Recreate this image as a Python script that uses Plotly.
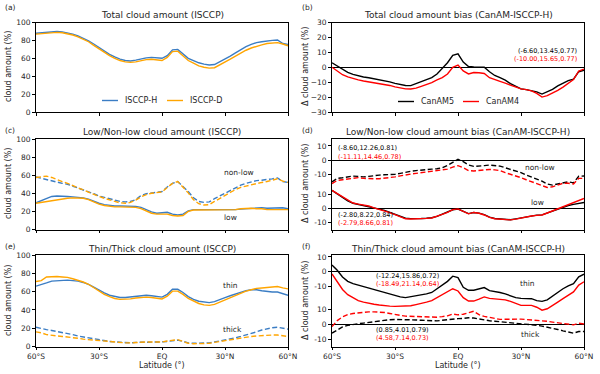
import plotly.graph_objects as go

# latitude grid (deg), 60S -> 60N
LAT = [-60, -57.5, -55, -52.5, -50, -47.5, -45, -42.5, -40, -37.5, -35, -32.5, -30,
       -27.5, -25, -22.5, -20, -17.5, -15, -12.5, -10, -7.5, -5, -2.5, 0,
       2.5, 5, 7.5, 10, 12.5, 15, 17.5, 20, 22.5, 25, 27.5, 30,
       32.5, 35, 37.5, 40, 42.5, 45, 47.5, 50, 52.5, 55, 57.5, 60]
XTICK_VALS = [-60, -30, 0, 30, 60]
XTICK_TEXT = ["60°S", "30°S", "EQ", "30°N", "60°N"]

# (a) total cloud amount, ISCCP-H / ISCCP-D
TOTAL_H = [88, 88.5, 89.5, 90, 90, 89.5, 88.5, 87, 85, 82.5, 79.5, 76, 72, 68, 64.5, 61.5, 59,
           57.5, 57, 58, 59.5, 60.5, 61, 60.5, 60, 63, 69.5, 70, 65, 60, 57.5, 55, 53.5, 52.5,
           53, 56, 59.5, 62.5, 66, 70, 73, 75.5, 77.5, 78.5, 79.5, 80, 80.5, 76.5, 75.5]
TOTAL_D = [87, 87.5, 88.5, 89, 89, 88.5, 87.5, 86, 84, 81.5, 78.5, 74.5, 70.5, 66.5, 63, 60, 57.5,
           56, 55.5, 56, 57.5, 58.5, 59, 58.5, 57.5, 61, 67.5, 68, 63, 57.5, 54.5, 51.5, 50, 49,
           49.5, 52.5, 56, 59, 62.5, 66, 69, 71.5, 73.5, 75, 76.5, 77, 77.5, 76, 74]

# (b) total cloud amount bias
TOTAL_B5 = [3, 1, -1.5, -3.5, -4.8, -5.8, -6.5, -7, -7.6, -8.2, -8.8, -9.8, -10.8, -11.5, -12.2,
            -12.3, -11, -10, -8.5, -7, -4.5, -0.7, 3, 8, 9, 3.5, 0.5, 0.2, 0, 0, -3, -5.5, -7,
            -8.7, -11, -13, -14.5, -15, -15.5, -16.5, -18, -16.5, -14.8, -12.5, -10.5, -9, -8, -3, -2]
TOTAL_B4 = [0, -2.5, -5, -6.5, -7.7, -8.5, -9.2, -9.8, -10.2, -10.6, -11.5, -12.2, -13.2, -14,
            -14.5, -14.6, -14, -12.8, -11.7, -10.3, -8.5, -7, -4.5, 0, 1.5, -2.5, -4.5, -3.5, -3.7,
            -4.2, -7, -8.5, -9.5, -10.7, -12, -13.7, -14.5, -15, -15.8, -17.5, -20, -19, -17.5,
            -15.5, -13.3, -10.5, -8.3, -2.5, -1.2]
TOTAL_STATS = ["(-6.60,13.45,0.77)", "(-10.00,15.65,0.77)"]

# (c) low / non-low cloud amount
NONLOW_H = [58, 56.5, 55, 53.5, 52, 51, 50, 48, 46, 44, 42, 39.5, 37, 35.5, 34, 32.5, 31, 30.5,
            31, 33, 37.5, 39.5, 40.5, 41, 42, 47, 51, 53, 48, 42, 35, 31, 30, 30.5, 34, 37, 40,
            43, 46, 49, 51, 52.5, 54, 54.5, 55, 56, 57, 53, 52]
NONLOW_D = [57.5, 58.5, 59, 57.5, 55, 53, 51, 48.5, 46, 44, 41.5, 39, 36.5, 34.5, 32.5, 31, 29.5,
            29, 30, 32.5, 36, 38.5, 40, 41, 41.5, 46.5, 51, 53, 47, 40.5, 33, 28.5, 27, 27.5, 31,
            34.5, 38, 41, 44, 46.5, 48, 49.5, 51, 52, 53, 54.5, 56, 53.5, 52]
LOW_H = [29.5, 32, 34.5, 36.5, 37, 37, 36.5, 36, 35.5, 35, 33.5, 31, 29, 27.5, 26.5, 26, 26, 26,
         26, 25.5, 24.5, 22, 19.5, 18, 18.5, 19, 17, 16, 17, 20.5, 22, 22, 22, 22, 22, 22, 22,
         21.5, 22, 22.5, 23, 23.5, 24, 24, 23.5, 23.5, 23.5, 24, 23]
LOW_D = [29, 30, 31, 32, 33, 34, 34.5, 35, 35, 34.5, 33, 30.5, 28, 26.5, 25.5, 25, 25, 25, 25,
         24.5, 23, 20.5, 18, 17, 17, 17, 15.5, 15, 15.5, 20, 21.5, 21.5, 22, 22, 21.5, 21.5, 22,
         21.5, 22, 23, 23.5, 23.5, 23, 23, 22, 22, 22, 22.5, 22]

# (d) low / non-low bias
NONLOW_B5 = [-15.5, -13, -12.6, -12, -11.4, -11.6, -12, -11.6, -11, -10.7, -10.5, -10.4, -10.2,
             -9.5, -8.5, -8, -7.5, -7, -6.7, -6.5, -6.2, -5.5, -3.8, -1.5, 0.5, -1.2, -3.5, -4.5,
             -4.5, -4, -3.6, -4, -4.3, -5.5, -6.5, -7.5, -9, -10.7, -12, -13.5, -15, -17, -17.8,
             -17, -16, -15.5, -16.2, -11.5, -11.4]
NONLOW_B4 = [-16.7, -14.5, -14, -13.5, -13, -12.5, -13, -13.3, -13.3, -13.3, -13, -12.4, -12,
             -11.3, -10.5, -10, -9.5, -9, -8.7, -8.3, -7.9, -7.5, -6.5, -5, -4, -5.5, -7.5, -7.8,
             -7.5, -7, -6.7, -7, -7.5, -9, -10, -11, -12.5, -14, -15.5, -17, -18.5, -19.5, -19,
             -17.5, -16.5, -16.5, -17, -13, -13]
LOW_B5 = [13, 10.5, 8.4, 5.5, 3.8, 3, 2.5, 1.8, 0.6, -0.3, -1.2, -2.5, -4, -5.5, -6.8, -7.1, -7.2,
          -7, -6.8, -6.5, -5.5, -4, -2.5, -0.8, -0.3, -2, -3.5, -2.8, -3.2, -4.2, -6, -7, -7.3,
          -7.6, -7.9, -7.3, -6.5, -5.8, -5, -4.6, -4.4, -3, -1.6, -0.2, 1.2, 2.2, 3, 3.5, 4.4]
LOW_B4 = [13, 10.8, 8.6, 5.8, 4, 3.2, 2.6, 1.9, 0.5, -0.5, -1.5, -2.8, -4.3, -5.8, -7.2, -7.4,
          -7.4, -7.1, -6.9, -6.6, -5.6, -4.1, -2.6, -0.7, -0.2, -2.1, -3.7, -2.7, -3.3, -4.5,
          -6.2, -7.2, -7.5, -7.8, -8, -7.4, -6.6, -5.9, -5.2, -4.8, -4.5, -3.1, -1.6, 0, 1.5,
          3, 4.3, 6, 7.2]
NONLOW_STATS = ["(-8.60,12.26,0.81)", "(-11.11,14.46,0.78)"]
LOW_STATS = ["(-2.80,8.22,0.84)", "(-2.79,8.66,0.81)"]

# (e) thin / thick cloud amount
THIN_H = [66, 67.5, 69.5, 71.5, 72, 72.5, 72.5, 72, 71.5, 70, 68, 65, 61.5, 58.5, 56, 54.5, 53.5,
          53.5, 54, 55, 55.5, 56, 55.5, 55, 54, 57, 62.5, 62.5, 59, 54.5, 51.5, 49.5, 48.5, 48,
          49, 51.5, 53.5, 55.5, 57.5, 59.5, 61, 62, 62, 61, 60, 59.5, 59.5, 57.5, 56]
THIN_D = [71, 72, 76, 76.5, 76.5, 76, 75.5, 74, 72.5, 70.5, 68, 64.5, 60.5, 57, 54.5, 52.5, 51.5,
          51.5, 52, 53, 53.5, 54, 53.5, 53, 52, 55, 60.5, 60.5, 57, 52.5, 49.5, 47, 45.5, 45, 46,
          48.5, 51, 53.5, 56, 58.5, 60.5, 62, 63.5, 64, 64.5, 65, 65.5, 64, 63]
THICK_H = [21, 19.5, 18.5, 17.5, 16.5, 15.5, 14.5, 13, 11.5, 10.5, 9.5, 8, 7, 6, 5.5, 5, 4.5, 4,
           4, 4.5, 4.5, 5, 5, 5, 5, 5.5, 6.5, 7, 5.5, 4, 3.5, 3.5, 3.5, 4, 5, 6, 7, 8, 9.5, 11,
           12.5, 14, 16, 18, 19.5, 20.5, 21, 20, 19]
THICK_D = [16, 15, 13, 12, 11.5, 11, 10.5, 9.5, 9, 8, 7.5, 6.5, 6, 5.5, 5, 4.5, 4, 4, 4, 4.5,
           4.5, 5, 5, 5, 5, 6, 7, 7.5, 5.5, 3.5, 3, 3, 3, 3.5, 4.5, 5.5, 6.5, 7.5, 8.5, 9.5, 10.5,
           11, 11.5, 12, 12, 12.5, 12.5, 11.5, 11]

# (f) thin / thick bias
THIN_B5 = [4.5, 1, -3.5, -6.5, -8, -9, -10, -11, -12, -13, -13.8, -15, -16.3, -17, -17.5, -17,
           -16.2, -15.5, -15, -14, -11.5, -9, -6.5, -3, -4, -10.5, -12.5, -12.5, -11.5, -10.7,
           -12.8, -13.3, -14, -15, -16.5, -17.5, -18, -18.2, -18.2, -19.5, -20, -19, -16.5,
           -13.5, -11.5, -9.5, -8, -3.5, -1.6]
THIN_B4 = [-1.5, -6.5, -12, -15.5, -17.5, -19.5, -20.5, -21.5, -22, -22.5, -23, -23.2, -23.4,
           -23.4, -23.3, -23, -22.2, -21.5, -20.5, -19.5, -17.5, -15, -13, -11.5, -13, -17.5,
           -19.8, -19.8, -18.5, -17, -18, -18.2, -18.5, -19, -20, -21.5, -22.7, -22.7, -22.7,
           -24, -26, -25, -23, -20.5, -18.2, -16, -13.6, -9, -6.8]
THICK_B5 = [-6, -3.8, -1.8, -0.7, 0, 0.4, 0.8, 1.3, 1.8, 2.3, 2.9, 3.1, 3.3, 3.3, 3.2, 3, 2.9,
            2.7, 2.4, 2.2, 2.3, 2.7, 3.2, 3.5, 3.8, 4, 4.4, 4.2, 3.5, 2.8, 2.4, 2.1, 1.8, 1.3,
            0.9, 0.6, 0.4, 0.2, -0.2, -0.7, -1.2, -1.8, -2.6, -3.5, -4.4, -5.2, -6, -4.9, -4.9]
THICK_B4 = [-1.6, 2.5, 5, 6.5, 7.3, 7.8, 8.2, 8.4, 8.4, 8.4, 8, 7.3, 6.5, 6, 5.5, 5.3, 5.1, 5,
            4.9, 4.8, 4.8, 5.2, 5.7, 6.9, 6.4, 6.8, 8, 8.8, 6.5, 5.3, 4.7, 3.8, 3.3, 3.4, 3.6,
            3.8, 3.5, 3.2, 3, 2.6, 2.3, 2, 1.5, 1, 0.5, 0, -0.4, 0.7, 0.2]
THIN_STATS = ["(-12.24,15.86,0.72)", "(-18.49,21.14,0.64)"]
THICK_STATS = ["(0.85,4.01,0.79)", "(4.58,7.14,0.73)"]

BLUE = "#3b7dc4"
ORANGE = "#ffa500"
RED = "#ff0000"
BLACK = "#000000"
FONT = "DejaVu Sans"
TXT = "#262626"

W, H = 600, 374
LEFT = [36 / W, 288 / W]
RIGHT = [332 / W, 584 / W]
ROWS = [[1 - 112 / H, 1 - 22.5 / H], [1 - 229.5 / H, 1 - 139 / H], [1 - 346.5 / H, 1 - 255 / H]]

fig = go.Figure()


def line(x, y, xa, ya, color, dash="solid", name=None):
    fig.add_trace(go.Scatter(
        x=x, y=y, xaxis=xa, yaxis=ya, mode="lines", name=name,
        line=dict(color=color, width=1.4, dash="5px,2.5px" if dash == "dash" else dash),
        showlegend=False, hoverinfo="skip"))


# (a)
line(LAT, TOTAL_H, "x", "y", BLUE, name="ISCCP-H")
line(LAT, TOTAL_D, "x", "y", ORANGE, name="ISCCP-D")
# (b)
line(LAT, TOTAL_B5, "x2", "y2", BLACK, name="CanAM5")
line(LAT, TOTAL_B4, "x2", "y2", RED, name="CanAM4")
# (c)
line(LAT, NONLOW_H, "x3", "y3", BLUE, "dash")
line(LAT, NONLOW_D, "x3", "y3", ORANGE, "dash")
line(LAT, LOW_H, "x3", "y3", BLUE)
line(LAT, LOW_D, "x3", "y3", ORANGE)
# (d)
line(LAT, NONLOW_B5, "x4", "y4", BLACK, "dash")
line(LAT, NONLOW_B4, "x4", "y4", RED, "dash")
line(LAT, LOW_B5, "x4", "y5", BLACK)
line(LAT, LOW_B4, "x4", "y5", RED)
# (e)
line(LAT, THIN_H, "x5", "y6", BLUE)
line(LAT, THIN_D, "x5", "y6", ORANGE)
line(LAT, THICK_H, "x5", "y6", BLUE, "dash")
line(LAT, THICK_D, "x5", "y6", ORANGE, "dash")
# (f)
line(LAT, THIN_B5, "x6", "y7", BLACK)
line(LAT, THIN_B4, "x6", "y7", RED)
line(LAT, THICK_B5, "x6", "y8", BLACK, "dash")
line(LAT, THICK_B4, "x6", "y8", RED, "dash")

tickfont = dict(family=FONT, size=7.5, color=TXT)


def xaxis(domain, anchor, labels):
    return dict(domain=domain, anchor=anchor, range=[-60, 60], tickvals=XTICK_VALS,
                ticktext=XTICK_TEXT, showticklabels=labels, ticks="outside", ticklen=3,
                tickwidth=0.8, tickcolor="black", showline=True, linecolor="black",
                linewidth=0.8, mirror=True, showgrid=False, zeroline=False, tickfont=tickfont,
                automargin=False)


def yaxis(domain, anchor, rng, tickvals, ticktext=None, zero=False, overlay=None):
    d = dict(anchor=anchor, range=rng, tickvals=tickvals, ticks="outside", ticklen=3,
             tickwidth=0.8, tickcolor="black", showgrid=False, tickfont=tickfont,
             zeroline=zero, zerolinecolor="black", zerolinewidth=1.3, automargin=False)
    if ticktext is not None:
        d["ticktext"] = ticktext
    if overlay:
        d.update(overlaying=overlay, showline=False)
    else:
        d.update(domain=domain, showline=True, linecolor="black", linewidth=0.8, mirror=True)
    return d


SPLIT_TICKS = [-10, 0, 10]
SPLIT_TEXT = ["-10", "0", "10"]

fig.update_layout(
    xaxis=xaxis(LEFT, "y", False),
    xaxis2=xaxis(RIGHT, "y2", False),
    xaxis3=xaxis(LEFT, "y3", False),
    xaxis4=xaxis(RIGHT, "y4", False),
    xaxis5=xaxis(LEFT, "y6", True),
    xaxis6=xaxis(RIGHT, "y7", True),
    yaxis=yaxis(ROWS[0], "x", [0, 100], [0, 20, 40, 60, 80, 100]),
    yaxis2=yaxis(ROWS[0], "x2", [-30, 30], [-30, -20, -10, 0, 10, 20, 30], zero=True),
    yaxis3=yaxis(ROWS[1], "x3", [0, 100], [0, 20, 40, 60, 80, 100]),
    yaxis4=yaxis(ROWS[1], "x4", [-49.3, 14.9], SPLIT_TICKS, SPLIT_TEXT, zero=True),
    yaxis5=yaxis(ROWS[1], "x4", [-14.8, 49.4], SPLIT_TICKS, SPLIT_TEXT, zero=True, overlay="y4"),
    yaxis6=yaxis(ROWS[2], "x5", [0, 100], [0, 20, 40, 60, 80, 100]),
    yaxis7=yaxis(ROWS[2], "x6", [-50.5, 11.3], SPLIT_TICKS, SPLIT_TEXT, zero=True),
    yaxis8=yaxis(ROWS[2], "x6", [-15, 46.8], SPLIT_TICKS, SPLIT_TEXT, zero=True, overlay="y7"),
)

ann = []
shapes = []


def text(x, y, s, size=7.5, color=TXT, xref="paper", yref="paper", xanchor="center", angle=0):
    ann.append(dict(x=x, y=y, text=s, xref=xref, yref=yref, xanchor=xanchor, yanchor="middle",
                    showarrow=False, textangle=angle, font=dict(family=FONT, size=size, color=color)))


# compact legends (short line sample + label), as in the matplotlib original
def legend_entry(px, py, color, label):
    shapes.append(dict(type="line", xref="paper", yref="paper", x0=px / W, x1=(px + 16) / W,
                       y0=1 - py / H, y1=1 - py / H, line=dict(color=color, width=1.4)))
    text((px + 21) / W, 1 - py / H, label, size=8, xanchor="left")


legend_entry(102, 100.5, BLUE, "ISCCP-H")
legend_entry(167, 100.5, ORANGE, "ISCCP-D")
legend_entry(398, 101.5, BLACK, "CanAM5")
legend_entry(463, 101.5, RED, "CanAM4")

# panel titles and labels
titles = [("Total cloud amount (ISCCP)", 162, 14.5), ("Total cloud amount bias (CanAM-ISCCP-H)", 458, 14.5),
          ("Low/Non-low cloud amount (ISCCP)", 162, 131.5), ("Low/Non-low cloud amount bias (CanAM-ISCCP-H)", 458, 131.5),
          ("Thin/Thick cloud amount (ISCCP)", 162, 248.5), ("Thin/Thick cloud amount bias (CanAM-ISCCP-H)", 458, 248.5)]
for s, px, py in titles:
    text(px / W, 1 - py / H, s, size=9)
for s, px, py in [("(a)", 3, 8), ("(b)", 300, 8), ("(c)", 3, 130), ("(d)", 300, 130),
                  ("(e)", 3, 246.5), ("(f)", 300, 246.5)]:
    text(px / W, 1 - py / H, s, size=7.5, xanchor="left")

# axis titles
for py in [67, 184, 301]:
    text(8 / W, 1 - py / H, "cloud amount (%)", size=8, angle=-90)
    text(305 / W, 1 - py / H, "Δ cloud amount (%)", size=8, angle=-90)
for px in [162, 458]:
    text(px / W, 1 - 365 / H, "Latitude (°)", size=8)

# in-panel labels
text(36.8, 62.7, "non-low", xref="x3", yref="y3")
text(32.4, 12.8, "low", xref="x3", yref="y3")
text(32.4, 66.5, "thin", xref="x5", yref="y6")
text(33.8, 18.2, "thick", xref="x5", yref="y6")
text(39, -5, "non-low", xref="x4", yref="y4")
text(38, 4, "low", xref="x4", yref="y5")
text(33.3, -7.8, "thin", xref="x6", yref="y7")
text(34.3, -6.6, "thick", xref="x6", yref="y8")

# statistics
text(57.6, 10.6, TOTAL_STATS[0], size=6.5, color=BLACK, xref="x2", yref="y2", xanchor="right")
text(57.6, 5.7, TOTAL_STATS[1], size=6.5, color=RED, xref="x2", yref="y2", xanchor="right")
text(-58.1, 8.5, NONLOW_STATS[0], size=6.5, color=BLACK, xref="x4", yref="y4", xanchor="left")
text(-58.1, 2.1, NONLOW_STATS[1], size=6.5, color=RED, xref="x4", yref="y4", xanchor="left")
text(-58.1, -4.5, LOW_STATS[0], size=6.5, color=BLACK, xref="x4", yref="y5", xanchor="left")
text(-58.1, -10.1, LOW_STATS[1], size=6.5, color=RED, xref="x4", yref="y5", xanchor="left")
text(-40, -3.0, THIN_STATS[0], size=6.5, color=BLACK, xref="x6", yref="y7", xanchor="left")
text(-40, -8.4, THIN_STATS[1], size=6.5, color=RED, xref="x6", yref="y7", xanchor="left")
text(-40, -4.1, THICK_STATS[0], size=6.5, color=BLACK, xref="x6", yref="y8", xanchor="left")
text(-40, -9.5, THICK_STATS[1], size=6.5, color=RED, xref="x6", yref="y8", xanchor="left")

fig.update_layout(annotations=ann, shapes=shapes, showlegend=False, width=W, height=H,
                  margin=dict(l=0, r=0, t=0, b=0),
                  plot_bgcolor="white", paper_bgcolor="white", font=dict(family=FONT))
# drop the default 8px page margin so the figure sits at the window origin
fig.write_html("out.html", config={"displayModeBar": False},
               post_script="document.body.style.margin='0';")
